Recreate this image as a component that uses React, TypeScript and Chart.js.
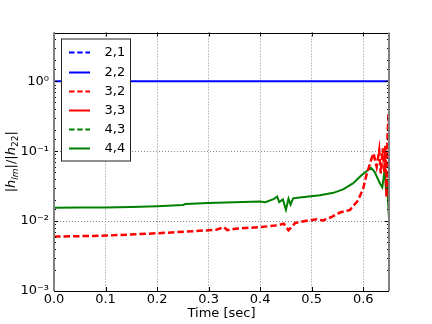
import React, { useEffect, useRef } from 'react';
import { Chart, registerables } from 'chart.js';

Chart.register(...registerables);

const FONT = "'DejaVu Sans', sans-serif";

// legend / series definitions
const seriesLabels = ['2,1', '2,2', '3,2', '3,3', '4,3', '4,4'];
const seriesColors = ['#0000ff', '#0000ff', '#ff0000', '#ff0000', '#008000', '#008000'];
const seriesDashed = [true, false, true, false, true, false];

// (2,1), (3,3), (4,3) are not visible inside the plotted range
const t21: number[] = [];
const v21: number[] = [];
const t33: number[] = [];
const v33: number[] = [];
const t43: number[] = [];
const v43: number[] = [];

const t22 = [0, 0.65];
const v22 = [1, 1];

const t32 = [0, 0.1, 0.2, 0.3, 0.314, 0.33, 0.336, 0.352, 0.4, 0.433, 0.446, 0.455, 0.468, 0.49, 0.51, 0.522, 0.539, 0.555, 0.574, 0.59, 0.6, 0.607, 0.612, 0.616, 0.62, 0.626, 0.631, 0.634, 0.638, 0.641, 0.643, 0.645, 0.647, 0.649, 0.65];
const v32 = [0.006, 0.0062, 0.0067, 0.0074, 0.0075, 0.0082, 0.0074, 0.0078, 0.0082, 0.0087, 0.0092, 0.0074, 0.0094, 0.0101, 0.0106, 0.0102, 0.0115, 0.0133, 0.0144, 0.0198, 0.0296, 0.048, 0.062, 0.078, 0.093, 0.06, 0.103, 0.048, 0.11, 0.05, 0.12, 0.022, 0.15, 0.35, 0.08];

const t44 = [0, 0.05, 0.1, 0.15, 0.2, 0.25, 0.255, 0.3, 0.35, 0.4, 0.41, 0.427, 0.433, 0.437, 0.444, 0.45, 0.455, 0.459, 0.464, 0.477, 0.516, 0.542, 0.561, 0.58, 0.597, 0.607, 0.615, 0.622, 0.6325, 0.637, 0.642, 0.644, 0.646, 0.648, 0.65];
const v44 = [0.0155, 0.0156, 0.0157, 0.0159, 0.0163, 0.017, 0.0176, 0.0181, 0.0186, 0.0191, 0.0187, 0.0208, 0.0225, 0.0187, 0.0204, 0.0145, 0.021, 0.0172, 0.0212, 0.0218, 0.0235, 0.0254, 0.0284, 0.0346, 0.0455, 0.052, 0.0578, 0.0506, 0.0346, 0.0305, 0.057, 0.028, 0.04, 0.02, 0.0109];

const seriesTimes = [t21, t22, t32, t33, t43, t44];
const seriesValues = [v21, v22, v32, v33, v43, v44];

const xMin = 0;
const xMax = 0.65;
const xStep = 0.1;
const yMin = 1e-3;
const yMax = 5;
const xTitle = 'Time [sec]';

const DASH = [6.5, 3];

const SUP: Record<string, string> = { '-': '\u207B', '0': '\u2070', '1': '\u00B9', '2': '\u00B2', '3': '\u00B3', '4': '\u2074', '5': '\u2075' };
const sup = (n: number) => String(n).split('').map((c) => SUP[c] || c).join('');
const isMajor = (v: number) => {
  const l = Math.log10(v);
  return Math.abs(l - Math.round(l)) < 1e-6;
};

const decor = {
  id: 'decor',
  afterDraw(chart: any) {
    const { ctx, chartArea: a, scales } = chart;
    const line = (x1: number, y1: number, x2: number, y2: number) => {
      ctx.beginPath();
      ctx.moveTo(x1, y1);
      ctx.lineTo(x2, y2);
      ctx.stroke();
    };
    ctx.save();
    ctx.setLineDash([]);
    ctx.strokeStyle = '#000';
    ctx.lineWidth = 1;
    // inward ticks
    scales.x.ticks.forEach((t: any) => {
      const px = Math.round(scales.x.getPixelForValue(t.value)) + 0.5;
      line(px, a.bottom, px, a.bottom - 4);
      line(px, a.top, px, a.top + 4);
    });
    scales.y.ticks.forEach((t: any) => {
      const py = Math.round(scales.y.getPixelForValue(t.value)) + 0.5;
      if (py < a.top || py > a.bottom) return;
      const len = isMajor(t.value) ? 4 : 2;
      line(a.left, py, a.left + len, py);
      line(a.right, py, a.right - len, py);
    });
    // frame
    ctx.strokeStyle = '#000';
    ctx.lineWidth = 1;
    line(a.left, Math.round(a.top) + 0.5, a.right, Math.round(a.top) + 0.5);
    line(a.left, Math.round(a.bottom) + 0.5, a.right, Math.round(a.bottom) + 0.5);
    ctx.strokeStyle = '#808080';
    ctx.lineWidth = 2;
    line(a.left, a.top, a.left, a.bottom);
    line(a.right, a.top, a.right, a.bottom);

    // legend
    const lx = 61, ly = 38.5, lw = 69, lh = 122;
    ctx.fillStyle = '#fff';
    ctx.fillRect(lx, ly, lw, lh);
    ctx.strokeStyle = '#222';
    ctx.lineWidth = 1;
    ctx.strokeRect(lx + 0.5, ly + 0.5, lw, lh);
    ctx.font = '13px ' + FONT;
    ctx.textBaseline = 'middle';
    ctx.textAlign = 'left';
    chart.data.datasets.forEach((ds: any, i: number) => {
      const cy = Math.round(52.3 + i * 19.2) + 0.5;
      ctx.strokeStyle = ds.borderColor;
      ctx.lineWidth = 2;
      ctx.setLineDash(ds.borderDash && ds.borderDash.length ? [5.5, 2.7] : []);
      line(69, cy, 90, cy);
      ctx.setLineDash([]);
      ctx.fillStyle = '#000';
      ctx.fillText(ds.label, 104.5, cy + 0.5);
    });

    // y-axis title  |h_lm|/|h_22|
    const segs = [
      { t: '|', f: '13px ' + FONT, dy: 0 },
      { t: 'h', f: 'italic 13px ' + FONT, dy: 0 },
      { t: 'lm', f: 'italic 9px ' + FONT, dy: 3 },
      { t: '|/|', f: '13px ' + FONT, dy: 0 },
      { t: 'h', f: 'italic 13px ' + FONT, dy: 0 },
      { t: '22', f: '9px ' + FONT, dy: 3 },
      { t: '|', f: '13px ' + FONT, dy: 0 },
    ];
    let total = 0;
    segs.forEach((s) => {
      ctx.font = s.f;
      total += ctx.measureText(s.t).width;
    });
    ctx.translate(15, (a.top + a.bottom) / 2);
    ctx.rotate(-Math.PI / 2);
    ctx.fillStyle = '#000';
    ctx.textBaseline = 'alphabetic';
    let cx = -total / 2;
    segs.forEach((s) => {
      ctx.font = s.f;
      ctx.fillText(s.t, cx, s.dy);
      cx += ctx.measureText(s.t).width;
    });
    ctx.restore();
  },
};

export default function App() {
  const ref = useRef<HTMLCanvasElement>(null);
  useEffect(() => {
    if (!ref.current) return;
    Chart.defaults.font.family = FONT;
    Chart.defaults.color = '#000';
    const datasets = seriesLabels.map((label, i) => ({
      label,
      data: seriesTimes[i].map((t, j) => ({ x: t, y: seriesValues[i][j] })),
      borderColor: seriesColors[i],
      backgroundColor: seriesColors[i],
      borderDash: seriesDashed[i] ? DASH : [],
      borderWidth: seriesDashed[i] ? 2.5 : 2,
      pointRadius: 0,
      tension: 0,
      fill: false,
    }));
    const chart = new Chart(ref.current, {
      type: 'line',
      data: { datasets },
      options: {
        animation: false,
        responsive: false,
        devicePixelRatio: 1,
        layout: { padding: { top: 32.5, right: 43, left: 0, bottom: 0 } },
        plugins: { legend: { display: false }, tooltip: { enabled: false } },
        scales: {
          x: {
            type: 'linear',
            min: xMin,
            max: xMax,
            afterFit: (s: any) => {
              s.height = 33;
            },
            ticks: {
              stepSize: xStep,
              includeBounds: false,
              autoSkip: false,
              maxRotation: 0,
              padding: 1,
              font: { size: 13, family: FONT },
              color: '#000',
              callback: (v: any) => Number(v).toFixed(1),
            },
            grid: { drawTicks: false, color: '#888', lineWidth: 1 },
            border: { display: false, dash: [1, 2] },
            title: { display: true, text: xTitle, font: { size: 13, family: FONT }, color: '#000', padding: { top: 0, bottom: 3 } },
          },
          y: {
            type: 'logarithmic',
            min: yMin,
            max: yMax,
            afterFit: (s: any) => {
              s.width = 54;
            },
            ticks: {
              autoSkip: false,
              padding: 5,
              font: { size: 13, family: FONT },
              color: '#000',
              callback: (v: any) => (isMajor(Number(v)) ? '10' + sup(Math.round(Math.log10(Number(v)))) : ''),
            },
            grid: {
              drawTicks: false,
              lineWidth: 1,
              color: (c: any) => (c.tick && isMajor(c.tick.value) ? '#888' : 'rgba(0,0,0,0)'),
            },
            border: { display: false, dash: [1, 2] },
          },
        },
      },
      plugins: [decor],
    });
    return () => chart.destroy();
  }, []);
  return (
    <div style={{ position: 'absolute', left: 0, top: 0, width: 432, height: 324 }}>
      <canvas ref={ref} width={432} height={324} />
    </div>
  );
}
